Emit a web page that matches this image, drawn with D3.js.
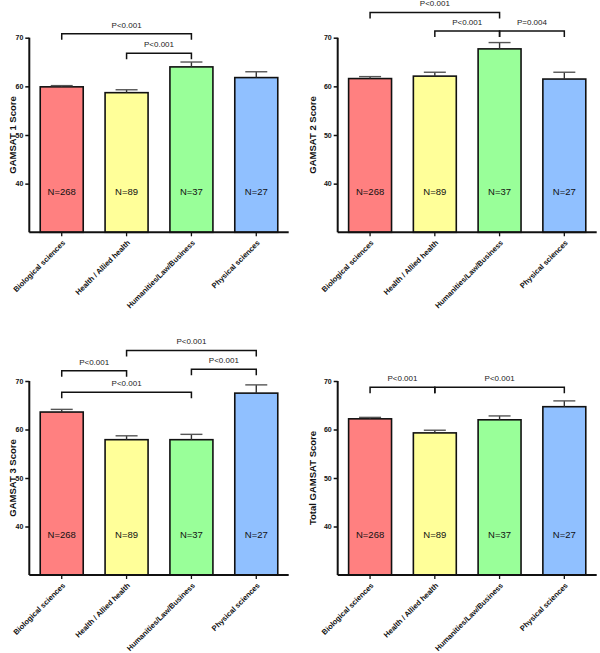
<!DOCTYPE html>
<html>
<head>
<meta charset="utf-8">
<script src="https://cdn.jsdelivr.net/npm/d3@7"></script>
<style>
  html, body { margin: 0; padding: 0; background: #fff; }
  svg { display: block; font-family: "Liberation Sans", Arial, sans-serif; }
</style>
</head>
<body>
<svg id="chart" width="600" height="653"></svg>
<script>
// ---------- data ----------
const categories = ["Biological sciences", "Health / Allied health", "Humanities/Law/Business", "Physical sciences"];
const nCounts = [268, 89, 37, 27];
const yTicks = [40, 50, 60, 70];
const yDomain = [30, 70];

const gamsat1Mean = [59.9, 58.7, 64.0, 61.8];
const gamsat1Sem  = [0.25, 0.6, 1.0, 1.2];
const gamsat2Mean = [61.6, 62.1, 67.7, 61.5];
const gamsat2Sem  = [0.4, 0.8, 1.3, 1.4];
const gamsat3Mean = [63.6, 57.9, 57.9, 67.5];
const gamsat3Sem  = [0.55, 0.8, 1.1, 1.7];
const totalMean   = [62.2, 59.3, 62.0, 64.7];
const totalSem    = [0.3, 0.55, 0.8, 1.2];

const panelTitles = ["GAMSAT 1 Score", "GAMSAT 2 Score", "GAMSAT 3 Score", "Total GAMSAT Score"];

// significance brackets: category indices, level in score units, label
const gamsat1Brackets = [
  { from: 0, to: 2, level: 70.8, label: "P<0.001" },
  { from: 1, to: 2, level: 66.8, label: "P<0.001" }
];
const gamsat2Brackets = [
  { from: 0, to: 2, level: 75.2, label: "P<0.001" },
  { from: 1, to: 2, level: 71.4, label: "P<0.001" },
  { from: 2, to: 3, level: 71.4, label: "P=0.004" }
];
const gamsat3Brackets = [
  { from: 0, to: 1, level: 72.1, label: "P<0.001" },
  { from: 1, to: 3, level: 76.3, label: "P<0.001" },
  { from: 2, to: 3, level: 72.4, label: "P<0.001" },
  { from: 0, to: 2, level: 67.7, label: "P<0.001" }
];
const totalBrackets = [
  { from: 0, to: 1, level: 68.7, label: "P<0.001" },
  { from: 1, to: 3, level: 68.7, label: "P<0.001" }
];

// ---------- style / layout ----------
const colors = ["#ff8080", "#ffff99", "#99ff99", "#90c0ff"];
const layouts = [
  { x0: 29.3,  x1: 288.7, yTop: 37.7, yBot: 232.3, titleX: 13 },
  { x0: 337.7, x1: 596.7, yTop: 37.7, yBot: 232.3, titleX: 313 },
  { x0: 29.3,  x1: 288.7, yTop: 381,  yBot: 575,   titleX: 13 },
  { x0: 337.7, x1: 596.7, yTop: 381,  yBot: 575,   titleX: 313 }
];
const panels = [
  { mean: gamsat1Mean, sem: gamsat1Sem, brackets: gamsat1Brackets },
  { mean: gamsat2Mean, sem: gamsat2Sem, brackets: gamsat2Brackets },
  { mean: gamsat3Mean, sem: gamsat3Sem, brackets: gamsat3Brackets },
  { mean: totalMean,   sem: totalSem,   brackets: totalBrackets }
];

const svg = d3.select("#chart");

panels.forEach((p, pi) => {
  const L = layouts[pi];
  const g = svg.append("g");

  const x = d3.scaleBand()
    .domain(categories)
    .range([L.x0, L.x1])
    .paddingInner(0.337)
    .paddingOuter(0.1685);
  const y = d3.scaleLinear().domain(yDomain).range([L.yBot, L.yTop]);
  const cx = i => x(categories[i]) + x.bandwidth() / 2;

  // bars
  g.selectAll("rect.bar")
    .data(categories)
    .join("rect")
    .attr("class", "bar")
    .attr("x", d => x(d))
    .attr("width", x.bandwidth())
    .attr("y", (d, i) => y(p.mean[i]))
    .attr("height", (d, i) => y(yDomain[0]) - y(p.mean[i]))
    .attr("fill", (d, i) => colors[i])
    .attr("stroke", "#111")
    .attr("stroke-width", 1.6);

  // error bars (upper)
  categories.forEach((c, i) => {
    const xc = cx(i);
    g.append("line")
      .attr("x1", xc).attr("x2", xc)
      .attr("y1", y(p.mean[i])).attr("y2", y(p.mean[i] + p.sem[i]))
      .attr("stroke", "#333").attr("stroke-width", 1.4);
    g.append("line")
      .attr("x1", xc - 11).attr("x2", xc + 11)
      .attr("y1", y(p.mean[i] + p.sem[i])).attr("y2", y(p.mean[i] + p.sem[i]))
      .attr("stroke", "#555").attr("stroke-width", 1.4);
  });

  // N labels
  g.selectAll("text.nlab")
    .data(nCounts)
    .join("text")
    .attr("class", "nlab")
    .attr("x", (d, i) => cx(i))
    .attr("y", y(38.4))
    .attr("dy", "0.35em")
    .attr("text-anchor", "middle")
    .attr("font-size", 9.5)
    .attr("fill", "#111")
    .text(d => "N=" + d);

  // y axis
  const yAxis = d3.axisLeft(y).tickValues(yTicks).tickSize(4).tickPadding(2).tickFormat(d3.format("d"));
  const ya = g.append("g").attr("transform", `translate(${L.x0},0)`).call(yAxis);
  ya.select(".domain").attr("stroke", "#111").attr("stroke-width", 2)
    .attr("d", `M0,${L.yTop}V${L.yBot}`);
  ya.selectAll(".tick line").attr("stroke", "#111").attr("stroke-width", 1.5);
  ya.selectAll(".tick text").attr("font-size", 7).attr("font-weight", "bold")
    .attr("font-family", "Liberation Sans, Arial, sans-serif").attr("fill", "#111");

  // x axis
  const xAxis = d3.axisBottom(x).tickSize(4).tickSizeOuter(0);
  const xa = g.append("g").attr("transform", `translate(0,${L.yBot})`).call(xAxis);
  xa.select(".domain").attr("stroke", "#111").attr("stroke-width", 2)
    .attr("d", `M${L.x0},0H${L.x1}`);
  xa.selectAll(".tick line").attr("stroke", "#111").attr("stroke-width", 1.3);
  xa.selectAll(".tick text")
    .attr("font-size", 7.5).attr("font-weight", "bold")
    .attr("font-family", "Liberation Sans, Arial, sans-serif").attr("fill", "#111")
    .attr("text-anchor", "end")
    .attr("y", 0).attr("dy", 0)
    .attr("transform", "translate(4,11) rotate(-45)");

  // y title
  g.append("text")
    .attr("transform", `translate(${L.titleX},${(L.yTop + L.yBot) / 2}) rotate(-90)`)
    .attr("text-anchor", "middle")
    .attr("dy", "0.35em")
    .attr("font-size", 9.5)
    .attr("font-weight", "bold")
    .attr("fill", "#111")
    .text(panelTitles[pi]);

  // brackets
  p.brackets.forEach(b => {
    const xa1 = cx(b.from), xa2 = cx(b.to), yl = y(b.level);
    g.append("path")
      .attr("d", `M${xa1},${yl + 6}V${yl}H${xa2}V${yl + 6}`)
      .attr("fill", "none").attr("stroke", "#111").attr("stroke-width", 1.5);
    g.append("text")
      .attr("x", (xa1 + xa2) / 2)
      .attr("y", yl - 6)
      .attr("text-anchor", "middle")
      .attr("font-size", 8)
      .attr("fill", "#222")
      .text(b.label);
  });
});
</script>
</body>
</html>
